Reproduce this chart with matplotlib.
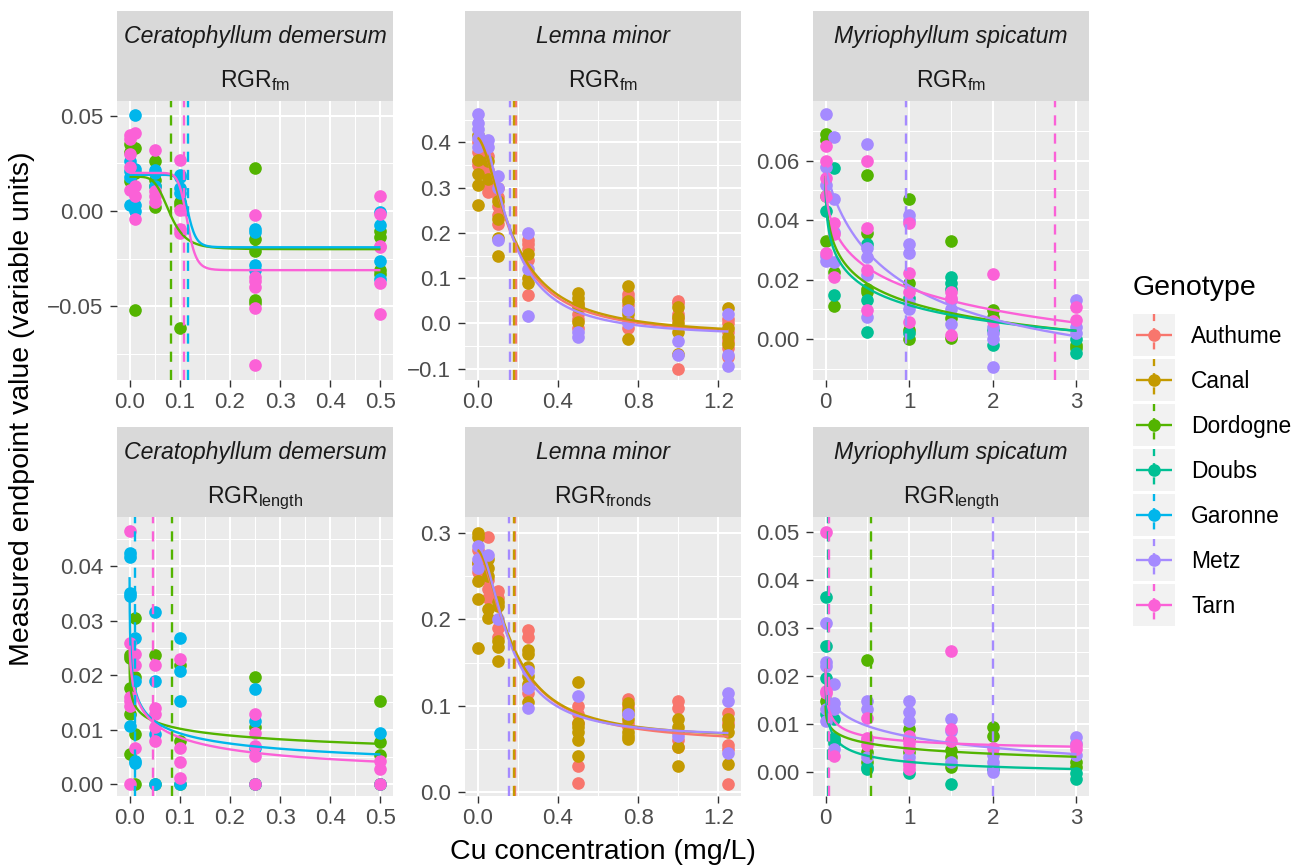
import numpy as np
import matplotlib
matplotlib.use("Agg")
import matplotlib.pyplot as plt
from matplotlib.patches import Rectangle
from matplotlib.ticker import FixedLocator

plt.rcParams['font.family'] = ['Liberation Sans', 'DejaVu Sans']
plt.rcParams['mathtext.fontset'] = 'custom'
plt.rcParams['mathtext.rm'] = 'Liberation Sans'
plt.rcParams['mathtext.it'] = 'Liberation Sans:italic'

# ---------------- data ----------------
GENOTYPES = ["Authume", "Canal", "Dordogne", "Doubs", "Garonne", "Metz", "Tarn"]
COLORS = ["#F8766D", "#C49A00", "#53B400", "#00C094", "#00B6EB", "#A58AFF", "#FB61D7"]

CERATO_CONC = [0, 0.01, 0.05, 0.1, 0.25, 0.5]
LEMNA_CONC = [0, 0.05, 0.1, 0.25, 0.5, 0.75, 1.0, 1.25]
MYRIO_CONC = [0, 0.1, 0.5, 1, 1.5, 2, 3]

# measured values: genotype -> one list per concentration
CD_FM_POINTS = {
    "Dordogne": [[0.035, 0.031, 0.0155], [0.033, 0.02, -0.052], [0.026, 0.0164, 0.013, 0.0022],
                 [0.005, 0.0034, -0.0615], [0.0228, -0.0147, -0.0207, -0.0466, -0.0483],
                 [-0.0103, -0.0138, -0.031, -0.0328]],
    "Garonne": [[0.026, 0.021, 0.018, 0.003], [0.0505, 0.022, 0.0, 0.003], [0.0215, 0.02, 0.013],
                [0.019, 0.0178, 0.012, 0.0095], [-0.0095, -0.0112, -0.0281, -0.031],
                [-0.0005, -0.0074, -0.0262, -0.0357]],
    "Tarn": [[0.040, 0.038, 0.030, 0.023, 0.011], [0.041, 0.0078, 0.013, -0.0043],
             [0.032, 0.0103, 0.0078, 0.005], [0.027, 0.0005, -0.0095, -0.0115],
             [-0.0022, -0.0345, -0.0367, -0.040, -0.0509, -0.0805],
             [0.0081, -0.0017, -0.0181, -0.019, -0.0376, -0.054]],
}
CD_LEN_POINTS = {
    "Dordogne": [[0.0238, 0.0232, 0.0177, 0.0128, 0.0055], [0.0305, 0.0196, 0.0092, 0.0],
                 [0.0238, 0.0], [0.0218, 0.0079, 0.0], [0.0197, 0.0104, 0.0],
                 [0.0153, 0.0078, 0.0053, 0.0]],
    "Garonne": [[0.0424, 0.0418, 0.0351, 0.0345, 0.0107], [0.0269, 0.019, 0.0043, 0.0038],
                [0.0316, 0.0189, 0.0092, 0.0], [0.0269, 0.0208, 0.0153, 0.0],
                [0.0174, 0.0116, 0.0067, 0.0], [0.0093, 0.0]],
    "Tarn": [[0.0465, 0.026, 0.016, 0.0153, 0.0143, 0.0], [0.024, 0.0218, 0.0067],
             [0.0218, 0.014, 0.0128, 0.0104, 0.0079], [0.0229, 0.0067, 0.004, 0.0012],
             [0.0129, 0.0093, 0.007, 0.0052, 0.0], [0.0043, 0.0027, 0.0]],
}
LM_FM_POINTS = {
    "Authume": [[0.40, 0.38, 0.36, 0.35], [0.37, 0.34, 0.31, 0.29], [0.30, 0.28, 0.26, 0.24, 0.22],
                [0.185, 0.175, 0.165, 0.14, 0.063], [0.04, 0.02, 0.01, -0.01],
                [0.065, 0.055, 0.04, 0.01, -0.01], [0.05, 0.045, 0.02, 0.01, -0.1],
                [0.01, 0.0, -0.02, -0.04, -0.055, -0.075]],
    "Canal": [[0.417, 0.362, 0.33, 0.306, 0.262], [0.36, 0.32], [0.27, 0.23, 0.188, 0.149],
              [0.153, 0.10, 0.09], [0.066, 0.055, 0.045, 0.035, 0.004],
              [0.083, 0.05, 0.03, 0.02, -0.035], [0.035, 0.015, 0.0, -0.02, -0.068],
              [0.033, -0.01, -0.03, -0.045]],
    "Metz": [[0.463, 0.443, 0.43, 0.41, 0.39], [0.405, 0.39], [0.325, 0.30, 0.185],
             [0.20, 0.12, 0.016], [-0.03, -0.02], [0.03, 0.0], [-0.04, -0.07],
             [0.02, -0.07, -0.095]],
}
LM_FR_POINTS = {
    "Authume": [[0.28, 0.265, 0.255], [0.295, 0.245, 0.235, 0.225], [0.233, 0.225, 0.19, 0.18],
                [0.188, 0.18, 0.12, 0.115], [0.10, 0.09, 0.08, 0.03, 0.011],
                [0.108, 0.10, 0.08, 0.075], [0.105, 0.097, 0.06, 0.052],
                [0.092, 0.08, 0.055, 0.05, 0.009]],
    "Canal": [[0.30, 0.295, 0.265, 0.244, 0.224, 0.167], [0.27, 0.26, 0.25, 0.2115, 0.201],
              [0.22, 0.215, 0.175, 0.168, 0.152], [0.165, 0.16, 0.145, 0.135, 0.125, 0.104],
              [0.127, 0.08, 0.075, 0.07, 0.06, 0.042], [0.103, 0.095, 0.09, 0.085, 0.07, 0.065, 0.062],
              [0.085, 0.075, 0.07, 0.052, 0.03], [0.085, 0.077, 0.07, 0.032]],
    "Metz": [[0.285, 0.27, 0.26], [0.275], [0.20], [0.14, 0.12, 0.097], [0.1115],
             [0.09], [0.065], [0.115, 0.105, 0.045]],
}
MS_FM_POINTS = {
    "Dordogne": [[0.069, 0.067, 0.048, 0.033], [0.0227, 0.011], [0.0552, 0.0358, 0.0168, 0.016],
                 [0.047, 0.019, 0.003, 0.0], [0.033, 0.007, 0.0005], [0.0098, 0.0075],
                 [-0.002, -0.003]],
    "Doubs": [[0.043], [0.0575, 0.0149], [0.032, 0.0132, 0.0023], [0.014, 0.002],
              [0.021, 0.019, 0.017], [-0.002, 0.003], [0.0, -0.0045]],
    "Metz": [[0.0755, 0.0577, 0.0518, 0.028, 0.0264], [0.068, 0.047, 0.0361, 0.026],
             [0.0655, 0.0305, 0.0277, 0.0216, 0.0076], [0.0417, 0.040, 0.032, 0.029, 0.012, 0.01],
             [0.013, 0.01, 0.005], [0.004, 0.002, 0.0, -0.0095], [0.0132, 0.004, 0.002]],
    "Tarn": [[0.065, 0.060, 0.054, 0.048, 0.029], [0.039, 0.0355, 0.021],
             [0.060, 0.0373, 0.0233, 0.0098], [0.039, 0.0222, 0.016, 0.0059],
             [0.016, 0.014, 0.0013], [0.0218, 0.006], [0.0107, 0.0065]],
}
MS_LEN_POINTS = {
    "Dordogne": [[0.0148], [0.0065], [0.0233, 0.004, 0.002], [0.0088, 0.007, 0.004],
                 [0.0045, 0.003, 0.001], [0.0094, 0.0075], [0.002, 0.001]],
    "Doubs": [[0.0365, 0.0262, 0.0196, 0.012], [0.011, 0.007, 0.006], [0.001, 0.0005],
              [-0.0003], [-0.0026], [0.0005], [-0.0003, -0.0015]],
    "Metz": [[0.031, 0.0228, 0.022, 0.013, 0.0105], [0.0182, 0.0144, 0.013, 0.0047],
             [0.0148, 0.013, 0.0065, 0.003], [0.0148, 0.0125, 0.0105, 0.003, 0.002],
             [0.011, 0.0085, 0.002], [0.0035, 0.002, 0.001, 0.0], [0.0073, 0.006, 0.0035]],
    "Tarn": [[0.050, 0.0169, 0.0165], [0.0033], [0.0113, 0.007, 0.0055],
             [0.0075, 0.006, 0.005, 0.0013, 0.0005], [0.0252, 0.0088, 0.0063], [0.005],
             [0.0055, 0.0048]],
}

# fitted log-logistic curves: genotype -> (b, c, d, e)
CD_FM_CURVES = {"Dordogne": (5, -0.020, 0.018, 0.080), "Garonne": (14, -0.019, 0.019, 0.116),
                "Tarn": (13, -0.031, 0.020, 0.115)}
CD_LEN_CURVES = {"Dordogne": (0.30, 0.0, 0.026, 0.023), "Garonne": (0.40, 0.0, 0.045, 0.0035),
                 "Tarn": (0.60, 0.0, 0.026, 0.0306)}
LM_FM_CURVES = {"Authume": (1.70, -0.030, 0.41, 0.175), "Canal": (1.65, -0.030, 0.41, 0.18),
                "Metz": (1.80, -0.030, 0.44, 0.163)}
LM_FR_CURVES = {"Authume": (1.6, 0.055, 0.28, 0.175), "Canal": (1.7, 0.060, 0.28, 0.175),
                "Metz": (1.8, 0.063, 0.285, 0.16)}
MS_FM_CURVES = {"Dordogne": (0.42, -0.028, 0.058, 0.75), "Doubs": (0.40, -0.025, 0.058, 0.54),
                "Metz": (0.85, -0.0206, 0.058, 0.956), "Tarn": (0.416, -0.045, 0.058, 2.74)}
MS_LEN_CURVES = {"Dordogne": (0.356, -0.0034, 0.015, 0.548), "Doubs": (0.484, -0.002, 0.024, 0.03),
                 "Metz": (0.42, -0.011, 0.021, 2.0), "Tarn": (0.53, 0.0035, 0.023, 0.036)}

# EC50 estimates (dashed lines)
CD_FM_EC50 = {"Dordogne": 0.082, "Garonne": 0.117, "Tarn": 0.1086}
CD_LEN_EC50 = {"Dordogne": 0.085, "Garonne": 0.011, "Tarn": 0.0474}
LM_FM_EC50 = {"Authume": 0.19, "Canal": 0.18, "Metz": 0.16}
LM_FR_EC50 = {"Authume": 0.185, "Canal": 0.183, "Metz": 0.155}
MS_FM_EC50 = {"Metz": 0.956, "Tarn": 2.74}
MS_LEN_EC50 = {"Dordogne": 0.548, "Doubs": 0.03, "Metz": 2.008, "Tarn": 0.036}

SPECIES = ["Ceratophyllum demersum", "Lemna minor", "Myriophyllum spicatum"]
ENDPOINTS_TOP = [r"RGR$_{\mathrm{fm}}$", r"RGR$_{\mathrm{fm}}$", r"RGR$_{\mathrm{fm}}$"]
ENDPOINTS_BOTTOM = [r"RGR$_{\mathrm{length}}$", r"RGR$_{\mathrm{fronds}}$", r"RGR$_{\mathrm{length}}$"]
X_LABEL = "Cu concentration (mg/L)"
Y_LABEL = "Measured endpoint value (variable units)"
LEGEND_TITLE = "Genotype"

# ---------------- layout / style ----------------
W, H = 1306, 868
fig = plt.figure(figsize=(W / 100, H / 100), dpi=100)
fig.patch.set_facecolor("white")

COL_LEFT = [117, 465, 813]
PANEL_W = 276
ROW_TOP = [101, 517]
PANEL_H = 279
STRIP_H = 90

PANEL_BG = "#EBEBEB"
STRIP_BG = "#D9D9D9"


def fpos(left, top, w, h):
    return [left / W, 1 - (top + h) / H, w / W, h / H]


def ll4(x, b, c, d, e):
    return c + (d - c) / (1.0 + (x / e) ** b)


def fmt(v, nd):
    s = f"{v:.{nd}f}"
    if s.startswith("-"):
        s = "\u2212" + s[1:]
    return s


def minor_ticks(major, lim):
    step = major[1] - major[0]
    cands = [major[0] - step / 2] + [m + step / 2 for m in major]
    return [c for c in cands if lim[0] <= c <= lim[1]]


PANELS = [
    dict(row=0, col=0, points=CD_FM_POINTS, conc=CERATO_CONC, curves=CD_FM_CURVES, ec50=CD_FM_EC50,
         xlim=(-0.025, 0.525), ylim=(-0.0886, 0.0577), xt=[0, 0.1, 0.2, 0.3, 0.4, 0.5], xd=1,
         yt=[-0.05, 0.0, 0.05], yd=2),
    dict(row=0, col=1, points=LM_FM_POINTS, conc=LEMNA_CONC, curves=LM_FM_CURVES, ec50=LM_FM_EC50,
         xlim=(-0.0625, 1.3125), ylim=(-0.1254, 0.4918), xt=[0, 0.4, 0.8, 1.2], xd=1,
         yt=[-0.1, 0.0, 0.1, 0.2, 0.3, 0.4], yd=1),
    dict(row=0, col=2, points=MS_FM_POINTS, conc=MYRIO_CONC, curves=MS_FM_CURVES, ec50=MS_FM_EC50,
         xlim=(-0.15, 3.15), ylim=(-0.0137, 0.0800), xt=[0, 1, 2, 3], xd=0,
         yt=[0.0, 0.02, 0.04, 0.06], yd=2),
    dict(row=1, col=0, points=CD_LEN_POINTS, conc=CERATO_CONC, curves=CD_LEN_CURVES, ec50=CD_LEN_EC50,
         xlim=(-0.025, 0.525), ylim=(-0.0022, 0.0491), xt=[0, 0.1, 0.2, 0.3, 0.4, 0.5], xd=1,
         yt=[0.0, 0.01, 0.02, 0.03, 0.04], yd=2),
    dict(row=1, col=1, points=LM_FR_POINTS, conc=LEMNA_CONC, curves=LM_FR_CURVES, ec50=LM_FR_EC50,
         xlim=(-0.0625, 1.3125), ylim=(-0.0045, 0.3185), xt=[0, 0.4, 0.8, 1.2], xd=1,
         yt=[0.0, 0.1, 0.2, 0.3], yd=1),
    dict(row=1, col=2, points=MS_LEN_POINTS, conc=MYRIO_CONC, curves=MS_LEN_CURVES, ec50=MS_LEN_EC50,
         xlim=(-0.15, 3.15), ylim=(-0.0051, 0.0532), xt=[0, 1, 2, 3], xd=0,
         yt=[0.0, 0.01, 0.02, 0.03, 0.04, 0.05], yd=2),
]

MS = 9.1       # marker diameter (pt)
LW = 1.7       # curve width
DASH = (4.3, 3.4)

for p in PANELS:
    left = COL_LEFT[p["col"]]
    top = ROW_TOP[p["row"]]
    ax = fig.add_axes(fpos(left, top, PANEL_W, PANEL_H))
    ax.set_facecolor(PANEL_BG)
    for s in ax.spines.values():
        s.set_visible(False)
    ax.set_xlim(*p["xlim"])
    ax.set_ylim(*p["ylim"])
    ax.xaxis.set_major_locator(FixedLocator(p["xt"]))
    ax.yaxis.set_major_locator(FixedLocator(p["yt"]))
    ax.xaxis.set_minor_locator(FixedLocator(minor_ticks(p["xt"], p["xlim"])))
    ax.yaxis.set_minor_locator(FixedLocator(minor_ticks(p["yt"], p["ylim"])))
    ax.set_xticklabels([fmt(v, p["xd"]) for v in p["xt"]])
    ax.set_yticklabels([fmt(v, p["yd"]) for v in p["yt"]])
    ax.tick_params(which="major", length=4.8, width=1.0, color="#333333",
                   labelcolor="#4D4D4D", labelsize=16)
    ax.tick_params(axis="x", which="major", pad=4.0)
    ax.tick_params(axis="y", which="major", pad=5.0)
    ax.tick_params(which="minor", length=0)
    ax.grid(which="major", color="white", lw=1.5)
    ax.grid(which="minor", color="white", lw=0.75)
    ax.set_axisbelow(True)

    # points
    for g in GENOTYPES:
        if g not in p["points"]:
            continue
        col = COLORS[GENOTYPES.index(g)]
        xs, ys = [], []
        for c, vals in zip(p["conc"], p["points"][g]):
            xs += [c] * len(vals)
            ys += vals
        ax.plot(xs, ys, ls="none", marker="o", ms=MS, mew=0, color=col, zorder=3)
    # fitted curves
    xmax = max(p["conc"])
    grid = np.geomspace(xmax * 1e-4, xmax, 600)
    for g in GENOTYPES:
        if g not in p["curves"]:
            continue
        col = COLORS[GENOTYPES.index(g)]
        b, c, d, e = p["curves"][g]
        ax.plot(grid, ll4(grid, b, c, d, e), color=col, lw=LW, zorder=4, solid_capstyle="butt")
    # EC50 lines
    for g in GENOTYPES:
        if g not in p["ec50"]:
            continue
        col = COLORS[GENOTYPES.index(g)]
        ax.axvline(p["ec50"][g], color=col, lw=LW, dashes=DASH, zorder=5)

    # strip
    sx = fig.add_axes(fpos(left, top - STRIP_H, PANEL_W, STRIP_H))
    sx.set_facecolor(STRIP_BG)
    for s in sx.spines.values():
        s.set_visible(False)
    sx.set_xticks([])
    sx.set_yticks([])
    sx.set_xlim(0, PANEL_W)
    sx.set_ylim(STRIP_H, 0)
    sx.text(PANEL_W / 2, 31.7, SPECIES[p["col"]], ha="center", va="baseline",
            fontsize=16.6, style="italic", color="#1A1A1A")
    ep = ENDPOINTS_TOP[p["col"]] if p["row"] == 0 else ENDPOINTS_BOTTOM[p["col"]]
    sx.text(PANEL_W / 2, 76.3, ep, ha="center", va="baseline", fontsize=16.6, color="#1A1A1A")

# axis titles
fig.text(603 / W, 1 - 852 / H, X_LABEL, ha="center", va="center", fontsize=20.5, color="black")
fig.text(22 / W, 1 - 409 / H, Y_LABEL, ha="center", va="center", rotation=90,
         fontsize=20.5, color="black")

# legend (drawn in pixel coordinates)
lg = fig.add_axes([0, 0, 1, 1], zorder=10)
lg.set_xlim(0, W)
lg.set_ylim(H, 0)
lg.axis("off")
lg.text(1132.7, 295, LEGEND_TITLE, ha="left", va="baseline", fontsize=20.5, color="black")
KEY_X, KEY_W, KEY_H, PITCH, FIRST_C = 1133, 42, 42.5, 45, 335
for i, g in enumerate(GENOTYPES):
    col = COLORS[i]
    cy = FIRST_C + i * PITCH
    lg.add_patch(Rectangle((KEY_X, cy - KEY_H / 2), KEY_W, KEY_H, facecolor="#F2F2F2",
                           edgecolor="none"))
    cx = KEY_X + KEY_W / 2
    lg.plot([KEY_X + 3, KEY_X + KEY_W - 3], [cy, cy], color=col, lw=LW, solid_capstyle="butt")
    lg.plot([cx, cx], [cy - KEY_H / 2, cy + KEY_H / 2], color=col, lw=LW, dashes=(3.0, 3.0))
    lg.plot([cx], [cy], ls="none", marker="o", ms=MS, mew=0, color=col)
    lg.text(1191, cy + 8.0, g, ha="left", va="baseline", fontsize=16.4, color="black")

fig.savefig("out.png", dpi=100, facecolor="white")
